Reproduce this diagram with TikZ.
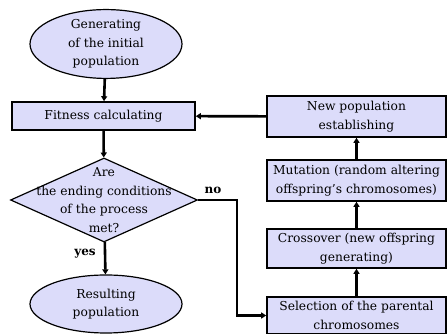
\documentclass[tikz,border=0pt]{standalone}
\usepackage{fontspec}
\setmainfont{DejaVu Serif}
\usepackage{tikz}
\usetikzlibrary{shapes.geometric,arrows.meta}
\definecolor{boxfill}{RGB}{220,220,250}

\begin{document}
\begin{tikzpicture}[x=1pt,y=1pt,
    font=\fontsize{12.3}{18.5}\selectfont,
    every node/.style={align=center},
    stage/.style={draw,fill=boxfill,line width=1.6pt,rectangle,inner sep=1pt},
    term/.style={draw,fill=boxfill,line width=1.2pt,ellipse,inner sep=0pt},
    flow/.style={line width=2.6pt,-{Triangle[length=5pt,width=6pt]}},
    answer/.style={font=\fontsize{12}{14}\selectfont\bfseries}]
          \useasboundingbox (0,0) rectangle (448,334);
          \node[term,minimum width=152,minimum height=64] (Init) at (106,290) {Generating\\of the initial\\population};
          \node[stage,minimum width=183,minimum height=28] (Fit) at (103.5,218) {Fitness calculating};
          \node[draw,fill=boxfill,line width=1.2pt,diamond,minimum width=187,minimum height=84,inner sep=0pt] (Cond) at (104,134) {};
          \node (CondText) at (Cond) {Are\\the ending conditions\\of the process\\met?};
          \node[term,minimum width=152,minimum height=58] (Res) at (106,30) {Resulting\\population};
          \node[stage,minimum width=179,minimum height=37] (Sel) at (356.5,18.5) {Selection of the parental\\chromosomes};
          \node[stage,minimum width=179,minimum height=39] (Cross) at (356.5,85.5) {Crossover (new offspring\\generating)};
          \node[stage,minimum width=179,minimum height=41] (Mut) at (356.5,153.5) {Mutation (random altering\\offspring's chromosomes)};
          \node[stage,minimum width=179,minimum height=41] (New) at (356.5,217.5) {New population\\establishing};
          \coordinate (Turn) at (237,134);
          \coordinate (Down) at (237,18.5);
          \node[answer] (No) at (213,144) {no};
          \node[answer] (Yes) at (85,80) {yes};
          \draw[flow] (Init) to (Fit);
          \draw[flow] (Fit) to (Cond);
          \draw[flow] (Cond) to (Res);
          \draw[flow] (Cond.east) -- (Turn) -- (Down) -- (Sel.west);
          \draw[flow] (Sel) to (Cross);
          \draw[flow] (Cross) to (Mut);
          \draw[flow] (Mut) to (New);
          \draw[flow] (New) to (Fit);
        \end{tikzpicture}
\end{document}
